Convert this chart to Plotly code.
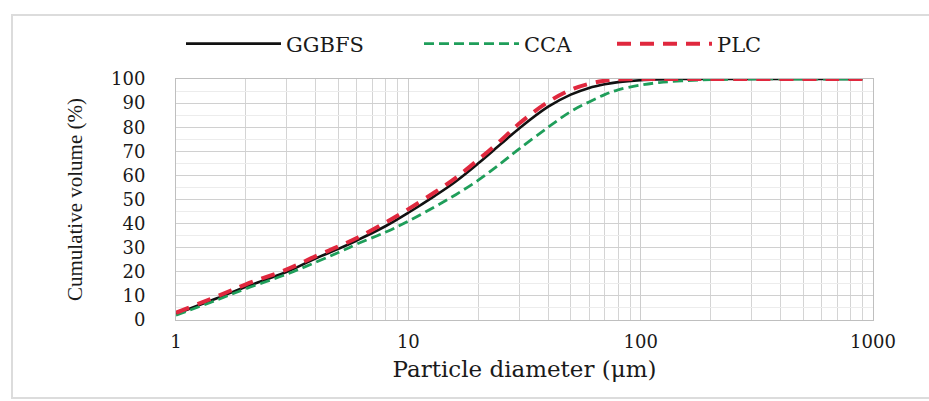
import plotly.graph_objects as go

# Particle diameters (µm)
diameter = [1, 1.5, 2, 3, 4, 5, 6, 8, 10, 13, 16, 20, 25, 30, 40, 50, 60, 70, 80,
            100, 120, 150, 200, 300, 500, 700, 900]

ggbfs = [2.5, 9.0, 13.8, 20.0, 25.6, 29.5, 33.0, 39.0, 44.5, 51.5, 57.5, 65.0, 73.0,
         79.5, 88.5, 93.5, 96.3, 97.8, 98.7, 99.5, 99.8, 100, 100, 100, 100, 100, 100]

cca = [2.0, 8.3, 13.0, 19.0, 24.0, 28.0, 31.5, 36.5, 41.0, 47.0, 52.0, 58.0, 65.0,
       71.0, 80.0, 86.5, 90.5, 93.5, 95.5, 97.5, 98.5, 99.2, 99.7, 100, 100, 100, 100]

plc = [3.0, 9.8, 14.8, 21.0, 26.5, 30.5, 34.0, 40.5, 46.0, 53.0, 59.0, 66.5, 74.5,
       81.5, 90.5, 95.5, 98.0, 99.3, 99.8, 100, 100, 100, 100, 100, 100, 100, 100]

x_tickvals = [1, 10, 100, 1000]
x_ticktext = ["1", "10", "100", "1000"]
y_tickvals = [0, 10, 20, 30, 40, 50, 60, 70, 80, 90, 100]

serif = "DejaVu Serif"
W, H = 929, 401
L, R, T, B = 176, 56, 79, 81
PW, PH = W - L - R, H - T - B


def px_x(px):
    return (px - L) / PW


def px_y(py):
    return (H - B - py) / PH


fig = go.Figure()
fig.add_trace(go.Scatter(x=diameter, y=ggbfs, mode="lines", name="GGBFS", legend="legend",
                         line=dict(color="#111111", width=2.6, shape="spline")))
fig.add_trace(go.Scatter(x=diameter, y=cca, mode="lines", name="CCA", legend="legend2",
                         line=dict(color="#1f9e5a", width=2.8, dash="10px,5px", shape="spline")))
fig.add_trace(go.Scatter(x=diameter, y=plc, mode="lines", name="PLC", legend="legend3",
                         line=dict(color="#e0283e", width=4.0, dash="14px,9px", shape="spline")))

leg_common = dict(orientation="h", xanchor="left", yanchor="middle", y=px_y(44),
                  font=dict(family=serif, size=21, color="#1a1a1a"),
                  itemwidth=95, bgcolor="rgba(0,0,0,0)", borderwidth=0)

fig.update_layout(
    width=W, height=H,
    margin=dict(l=L, r=R, t=T, b=B),
    paper_bgcolor="white", plot_bgcolor="white",
    showlegend=True,
    legend=dict(x=px_x(181), **leg_common),
    legend2=dict(x=px_x(419), **leg_common),
    legend3=dict(x=px_x(612), **leg_common),
    xaxis=dict(type="log", range=[0, 3], tickvals=x_tickvals, ticktext=x_ticktext,
               showgrid=True, gridcolor="#cccccc", gridwidth=1,
               minor=dict(showgrid=True, gridcolor="#d4d4d4", dtick="D1", ticks=""),
               showline=True, linecolor="#bfbfbf", linewidth=1, mirror=True,
               ticks="", ticklabelstandoff=5,
               tickfont=dict(family=serif, size=18, color="#1a1a1a"),
               title=dict(text="Particle diameter (μm)", standoff=10,
                          font=dict(family=serif, size=23, color="#1a1a1a"))),
    yaxis=dict(range=[0, 100], tickvals=y_tickvals,
               showgrid=True, gridcolor="#d0d0d0", gridwidth=1,
               minor=dict(showgrid=True, gridcolor="#ececec", dtick=5, ticks=""),
               showline=True, linecolor="#bfbfbf", linewidth=1, mirror=True,
               ticks="", ticklabelstandoff=26,
               tickfont=dict(family=serif, size=18, color="#1a1a1a"),
               title=dict(text="Cumulative volume (%)", standoff=22,
                          font=dict(family="Liberation Serif", size=21, color="#1a1a1a"))),
    shapes=[dict(type="rect", xref="paper", yref="paper",
                 x0=px_x(12), x1=px_x(940), y0=px_y(398), y1=px_y(15),
                 line=dict(color="#dcdcdc", width=2), layer="below")],
)

fig.write_html("out.html")
